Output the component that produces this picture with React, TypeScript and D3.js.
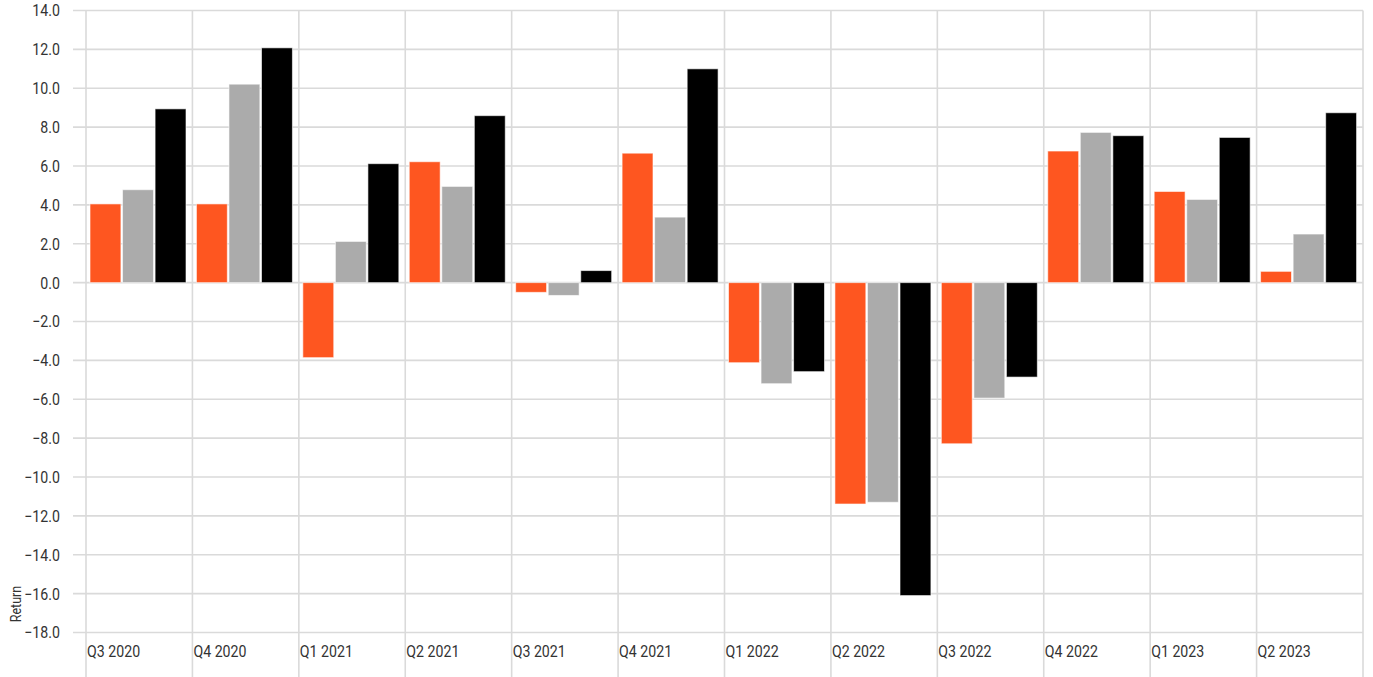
import * as d3 from 'd3';
import React, { useEffect, useRef } from 'react';

const quarters = [
  'Q3 2020', 'Q4 2020', 'Q1 2021', 'Q2 2021', 'Q3 2021', 'Q4 2021',
  'Q1 2022', 'Q2 2022', 'Q3 2022', 'Q4 2022', 'Q1 2023', 'Q2 2023',
];
const seriesNames = ['fund', 'category', 'index'];
const fundReturns = [4.05, 4.05, -3.86, 6.22, -0.5, 6.66, -4.12, -11.39, -8.29, 6.77, 4.69, 0.58];
const categoryReturns = [4.78, 10.21, 2.12, 4.95, -0.66, 3.37, -5.2, -11.3, -5.94, 7.73, 4.28, 2.5];
const indexReturns = [8.94, 12.08, 6.12, 8.59, 0.62, 11.0, -4.58, -16.1, -4.86, 7.56, 7.47, 8.74];
const yTicks = [14, 12, 10, 8, 6, 4, 2, 0, -2, -4, -6, -8, -10, -12, -14, -16, -18];
const colors = ['#fe5620', '#ababab', '#000000'];

const FONT = "Roboto, 'Liberation Sans', sans-serif";
const SQUEEZE = 0.86; // narrow the glyphs a bit, the original uses a condensed face

const App: React.FC = () => {
  const ref = useRef<SVGSVGElement | null>(null);

  useEffect(() => {
    if (!ref.current) return;
    const svg = d3.select(ref.current);
    svg.selectAll('*').remove();

    const H = 677;
    const left = 86;
    const right = 1363;
    const top = 10.5;
    const bottom = 632.5;

    const x0 = d3.scaleBand<string>().domain(quarters).range([left, right]);
    const x1 = d3
      .scaleBand<string>()
      .domain(seriesNames)
      .range([4, 100])
      .paddingInner(0.05);
    const y = d3.scaleLinear().domain([-18, 14]).range([bottom, top]);

    // horizontal grid
    svg
      .append('g')
      .selectAll('line')
      .data(yTicks)
      .enter()
      .append('line')
      .attr('x1', 73)
      .attr('x2', right)
      .attr('y1', (d) => y(d))
      .attr('y2', (d) => y(d))
      .attr('stroke', '#dadada')
      .attr('stroke-width', 1.6);

    // vertical grid on band edges
    const edges = quarters.map((q) => x0(q) as number).concat([right]);
    svg
      .append('g')
      .selectAll('line')
      .data(edges)
      .enter()
      .append('line')
      .attr('x1', (d) => d)
      .attr('x2', (d) => d)
      .attr('y1', top)
      .attr('y2', H)
      .attr('stroke', '#dadada')
      .attr('stroke-width', 1.6);

    // y labels
    svg
      .append('g')
      .selectAll('text')
      .data(yTicks)
      .enter()
      .append('text')
      .attr('transform', (d) => `translate(60,${y(d)}) scale(${SQUEEZE},1)`)
      .attr('dy', '0.36em')
      .attr('text-anchor', 'end')
      .attr('font-family', FONT)
      .attr('font-size', 16.5)
      .attr('fill', '#333')
      .text((d) => d3.format('.1f')(d));

    // bars
    const series = [fundReturns, categoryReturns, indexReturns];
    const rows = quarters.map((q, i) => ({
      q,
      values: seriesNames.map((s, j) => ({ s, j, v: series[j][i] })),
    }));

    const groups = svg
      .append('g')
      .selectAll('g')
      .data(rows)
      .enter()
      .append('g')
      .attr('transform', (d) => `translate(${x0(d.q)},0)`);

    groups
      .selectAll('rect')
      .data((d) => d.values)
      .enter()
      .append('rect')
      .attr('x', (d) => x1(d.s) as number)
      .attr('width', x1.bandwidth())
      .attr('y', (d) => y(Math.max(0, d.v)))
      .attr('height', (d) => Math.abs(y(d.v) - y(0)))
      .attr('fill', (d) => colors[d.j])
      .attr('stroke', '#fff')
      .attr('stroke-opacity', 0.6)
      .attr('stroke-width', 1);

    // category labels
    svg
      .append('g')
      .selectAll('text')
      .data(quarters)
      .enter()
      .append('text')
      .attr('transform', (d) => `translate(${(x0(d) as number) + 1},657) scale(${SQUEEZE},1)`)
      .attr('font-family', FONT)
      .attr('font-size', 16.5)
      .attr('fill', '#333')
      .text((d) => d);

    // axis title
    svg
      .append('text')
      .attr('transform', `translate(21,604) rotate(-90) scale(${SQUEEZE},1)`)
      .attr('text-anchor', 'middle')
      .attr('font-family', FONT)
      .attr('font-size', 14.5)
      .attr('fill', '#333')
      .text('Return');
  }, []);

  return (
    <svg
      ref={ref}
      width={1373}
      height={677}
      style={{ position: 'absolute', left: 0, top: 0, background: '#fff' }}
    />
  );
};

export default App;
